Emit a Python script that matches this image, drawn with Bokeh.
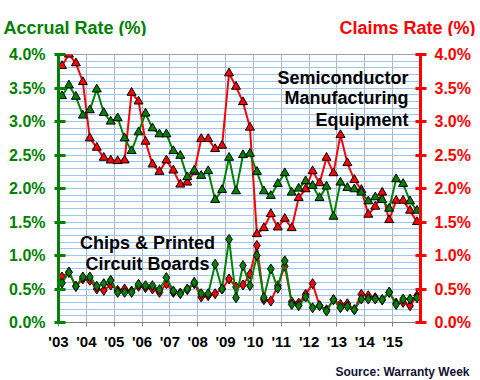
from bokeh.plotting import figure
from bokeh.layouts import column
from bokeh.models import FixedTicker, LinearAxis, Label, PrintfTickFormatter, ColumnDataSource
from bokeh.embed import file_html
from bokeh.resources import INLINE

# ---- data ----
years = list(range(2003, 2016))
year_labels = ["'03", "'04", "'05", "'06", "'07", "'08", "'09",
               "'10", "'11", "'12", "'13", "'14", "'15"]
quarters = [1, 2, 3, 4]

semi_claims = [3.83, 4.00, 3.87, 3.59, 2.75, 2.61, 2.46, 2.42, 2.41, 2.42,
               3.43, 3.30, 2.70, 2.36, 2.25, 2.42, 2.27, 2.06, 2.09, 2.25,
               2.74, 2.74, 2.59, 2.64, 3.72, 3.52, 3.29, 2.91, 1.32, 1.41,
               1.62, 1.42, 1.55, 1.41, 1.86, 1.99, 2.26, 2.08, 2.46, 2.23,
               2.80, 2.38, 2.13, 1.98, 1.61, 1.73, 1.94, 1.53, 1.82, 1.82,
               1.67, 1.50]
semi_accrual = [3.38, 3.54, 3.37, 3.09, 3.17, 3.48, 3.13, 3.00, 3.05, 2.75,
                2.56, 2.84, 3.12, 2.90, 2.81, 2.81, 2.56, 2.49, 2.17, 2.27,
                2.19, 2.26, 1.83, 1.98, 2.46, 1.96, 2.50, 2.52, 2.25, 1.96,
                1.89, 2.07, 2.23, 1.94, 2.00, 2.11, 2.04, 1.86, 2.03, 1.58,
                2.09, 2.01, 1.99, 1.94, 1.81, 1.87, 1.83, 1.70, 2.14, 2.07,
                1.81, 1.67]
chips_claims = [0.68, 0.75, 0.54, 0.65, 0.63, 0.50, 0.48, 0.56, 0.48, 0.50,
                0.47, 0.54, 0.52, 0.50, 0.45, 0.58, 0.45, 0.44, 0.49, 0.58,
                0.38, 0.40, 0.43, 0.50, 0.65, 0.53, 0.56, 0.72, 1.15, 0.34,
                0.32, 0.55, 0.84, 0.31, 0.29, 0.42, 0.58, 0.25, 0.19, 0.34,
                0.27, 0.28, 0.19, 0.42, 0.40, 0.37, 0.34, 0.45, 0.29, 0.30,
                0.25, 0.40]
chips_accrual = [0.59, 0.75, 0.54, 0.68, 0.68, 0.54, 0.58, 0.63, 0.45, 0.45,
                 0.45, 0.57, 0.55, 0.55, 0.49, 0.67, 0.47, 0.43, 0.50, 0.60,
                 0.43, 0.43, 0.87, 0.50, 1.24, 0.37, 0.85, 0.55, 1.00, 0.37,
                 0.80, 0.51, 0.92, 0.27, 0.25, 0.38, 0.22, 0.25, 0.17, 0.34,
                 0.22, 0.24, 0.19, 0.35, 0.35, 0.35, 0.34, 0.45, 0.27, 0.35,
                 0.35, 0.37]

rate_ticks = [0.0, 0.5, 1.0, 1.5, 2.0, 2.5, 3.0, 3.5, 4.0]

# quarter positions (mid-quarter)
qx = [y + (q - 0.5) / 4 for y in years for q in quarters]

GREEN = "#008000"
RED = "#FF0000"
FONT = "Liberation Sans"
W = 480


def text_strip(height):
    f = figure(width=W, height=height, x_range=(0, W), y_range=(0, height),
               output_backend="svg", toolbar_location=None,
               x_axis_type=None, y_axis_type=None,
               min_border=0, frame_align=False)
    f.grid.visible = False
    f.outline_line_color = None
    f.background_fill_color = "white"
    f.border_fill_color = "white"
    return f


def add_label(fig, text, x, y, size, color, align, units="data"):
    fig.add_layout(Label(x=x, y=y, x_units=units, y_units=units, text=text,
                         text_font=FONT, text_font_style="bold",
                         text_font_size=size, text_color=color,
                         text_align=align, text_baseline="alphabetic"))


# ---- header strip with the two axis titles ----
top = text_strip(36)
add_label(top, "Accrual Rate (%)", 3, 9, "18px", GREEN, "left")
add_label(top, "Claims Rate (%)", 475, 9, "18px", RED, "right")

# ---- main chart ----
src = ColumnDataSource(dict(x=qx, sc=semi_claims, sa=semi_accrual,
                            cc=chips_claims, ca=chips_accrual))

p = figure(width=W, height=319, x_range=(2003, 2016), y_range=(0, 4),
           output_backend="svg", toolbar_location=None,
           min_border_left=58, min_border_right=60,
           min_border_top=18, min_border_bottom=33, frame_align=False)
p.background_fill_color = "white"
p.border_fill_color = "white"
p.outline_line_color = "#A0A0A0"

# grids
p.xgrid.ticker = FixedTicker(ticks=years[1:])
p.xgrid.grid_line_color = "#B4B4B4"
p.xgrid.grid_line_width = 1
p.ygrid.ticker = FixedTicker(ticks=[i / 10 for i in range(1, 40)])
p.ygrid.grid_line_color = "#9CC6F2"
p.ygrid.grid_line_width = 1

# x axis
xa = p.xaxis[0]
xa.ticker = FixedTicker(ticks=years)
xa.major_label_overrides = {y: lab for y, lab in zip(years, year_labels)}
xa.axis_line_color = "#808080"
xa.major_tick_line_color = "#808080"
xa.major_tick_in = 0
xa.major_tick_out = 4
xa.minor_tick_line_color = None
xa.major_label_text_font = FONT
xa.major_label_text_font_style = "bold"
xa.major_label_text_font_size = "15px"
xa.major_label_text_color = "black"
xa.major_label_standoff = 6

# left axis
ya = p.yaxis[0]
ya.ticker = FixedTicker(ticks=rate_ticks)
ya.formatter = PrintfTickFormatter(format="%.1f%%")
ya.axis_line_color = GREEN
ya.axis_line_width = 3
ya.major_tick_line_color = GREEN
ya.major_tick_line_width = 3
ya.major_tick_in = 7
ya.major_tick_out = 4
ya.minor_tick_line_color = None
ya.major_label_text_font = FONT
ya.major_label_text_font_style = "bold"
ya.major_label_text_font_size = "16px"
ya.major_label_text_color = GREEN
ya.major_label_standoff = 9

# right axis
ra = LinearAxis(ticker=FixedTicker(ticks=rate_ticks),
                formatter=PrintfTickFormatter(format="%.1f%%"))
ra.axis_line_color = RED
ra.axis_line_width = 3
ra.major_tick_line_color = RED
ra.major_tick_line_width = 3
ra.major_tick_in = 5
ra.major_tick_out = 6
ra.minor_tick_line_color = None
ra.major_label_text_font = FONT
ra.major_label_text_font_style = "bold"
ra.major_label_text_font_size = "16px"
ra.major_label_text_color = RED
ra.major_label_standoff = 8
p.add_layout(ra, "right")

# series
p.line("x", "sc", source=src, line_color=RED, line_width=2)
p.scatter("x", "sc", source=src, marker="triangle", size=9,
          fill_color=RED, line_color="black", line_width=1)
p.line("x", "sa", source=src, line_color=GREEN, line_width=2)
p.scatter("x", "sa", source=src, marker="triangle", size=9,
          fill_color=GREEN, line_color="black", line_width=1)

p.line("x", "cc", source=src, line_color=RED, line_width=2)
p.scatter("x", "cc", source=src, marker="diamond", size=10,
          fill_color=RED, line_color="black", line_width=1)
p.line("x", "ca", source=src, line_color=GREEN, line_width=2)
p.scatter("x", "ca", source=src, marker="diamond", size=10,
          fill_color=GREEN, line_color="black", line_width=1)

# in-plot annotations (screen units relative to the plot frame)
add_label(p, "Semiconductor", 350, 245, "18px", "black", "right", "screen")
add_label(p, "Manufacturing", 350, 225, "18px", "black", "right", "screen")
add_label(p, "Equipment", 350, 203, "18px", "black", "right", "screen")
add_label(p, "Chips & Printed", 89, 80, "18px", "black", "center", "screen")
add_label(p, "Circuit Boards", 89, 59, "18px", "black", "center", "screen")

# ---- footer strip with the source note ----
bottom = text_strip(25)
add_label(bottom, "Source: Warranty Week", 469, 9, "12px", "#111133", "right")

layout = column(top, p, bottom, spacing=0)
open("out.html", "w").write(file_html(layout, INLINE))
